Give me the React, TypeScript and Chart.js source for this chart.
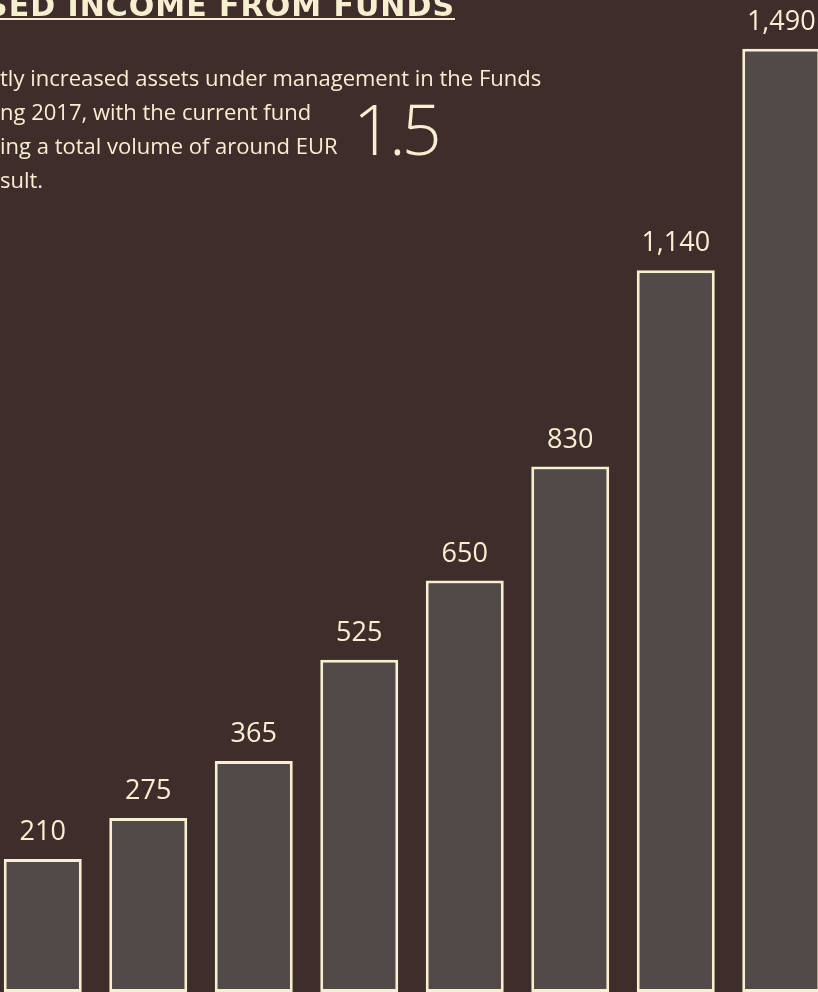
import React, { useEffect, useRef } from "react";
import { Chart, registerables } from "chart.js";

Chart.register(...registerables);

const categories = ["1", "2", "3", "4", "5", "6", "7", "8"];
const fundVolumes = [210, 275, 365, 525, 650, 830, 1140, 1490];
const yMax = 1567;

const titleText = "INCREASED INCOME FROM FUNDS";
const paragraphLines = [
  "tly increased assets under management in the Funds",
  "ng 2017, with the current fund",
  "ing a total volume of around EUR",
  "sult.",
];
const bigFigure = "1.5";

const BG = "#3e2d2a";
const BAR_FILL = "#524a49";
const CREAM = "#f7f0d0";

const valueLabelPlugin = {
  id: "valueLabels",
  afterDatasetsDraw(chart: any) {
    const ctx = chart.ctx;
    const meta = chart.getDatasetMeta(0);
    const data = chart.data.datasets[0].data as number[];
    ctx.save();
    ctx.fillStyle = CREAM;
    ctx.font = "27px 'Open Sans'";
    ctx.textAlign = "center";
    ctx.textBaseline = "alphabetic";
    meta.data.forEach((bar: any, i: number) => {
      ctx.fillText(data[i].toLocaleString("en-US"), bar.x, bar.y - 19);
    });
    ctx.restore();
  },
};

export default function App() {
  const canvasRef = useRef<HTMLCanvasElement | null>(null);

  useEffect(() => {
    if (!canvasRef.current) return;
    const chart = new Chart(canvasRef.current, {
      type: "bar",
      data: {
        labels: categories,
        datasets: [
          {
            data: fundVolumes,
            backgroundColor: BAR_FILL,
            borderColor: CREAM,
            borderWidth: 3,
            borderSkipped: false,
            barPercentage: 0.7393,
            categoryPercentage: 1,
          },
        ],
      },
      options: {
        animation: false,
        responsive: false,
        maintainAspectRatio: false,
        layout: { padding: 0 },
        plugins: {
          legend: { display: false },
          tooltip: { enabled: false },
        },
        scales: {
          x: { display: false, offset: true, grid: { display: false } },
          y: { display: false, min: 0, max: yMax, grid: { display: false } },
        },
      },
      plugins: [valueLabelPlugin],
    });
    return () => chart.destroy();
  }, []);

  return (
    <div
      style={{
        position: "fixed",
        left: 0,
        top: 0,
        width: 818,
        height: 992,
        overflow: "hidden",
        background: BG,
      }}
    >
      <canvas
        ref={canvasRef}
        width={844}
        height={992}
        style={{ position: "absolute", left: -10, top: 0, width: 844, height: 992 }}
      />
      <div
        style={{
          position: "absolute",
          right: 818 - 455,
          top: -9.5,
          whiteSpace: "nowrap",
          fontFamily: "'DejaVu Sans', sans-serif",
          fontWeight: 700,
          fontSize: 30,
          lineHeight: "30px",
          letterSpacing: 1,
          color: CREAM,
          textDecoration: "underline",
          textDecorationThickness: 2,
          textUnderlineOffset: 2,
        }}
      >
        {titleText}
      </div>
      <div
        style={{
          position: "absolute",
          left: 0,
          top: 59.5,
          fontFamily: "'Open Sans', sans-serif",
          fontSize: 22,
          lineHeight: "34px",
          color: CREAM,
          whiteSpace: "nowrap",
        }}
      >
        {paragraphLines.map((l, i) => (
          <div key={i}>{l}</div>
        ))}
      </div>
      <div
        style={{
          position: "absolute",
          left: 353,
          top: 93,
          fontFamily: "'Open Sans', sans-serif",
          fontWeight: 300,
          fontSize: 70,
          lineHeight: "70px",
          letterSpacing: -4,
          color: CREAM,
          whiteSpace: "nowrap",
        }}
      >
        {bigFigure}
      </div>
    </div>
  );
}
